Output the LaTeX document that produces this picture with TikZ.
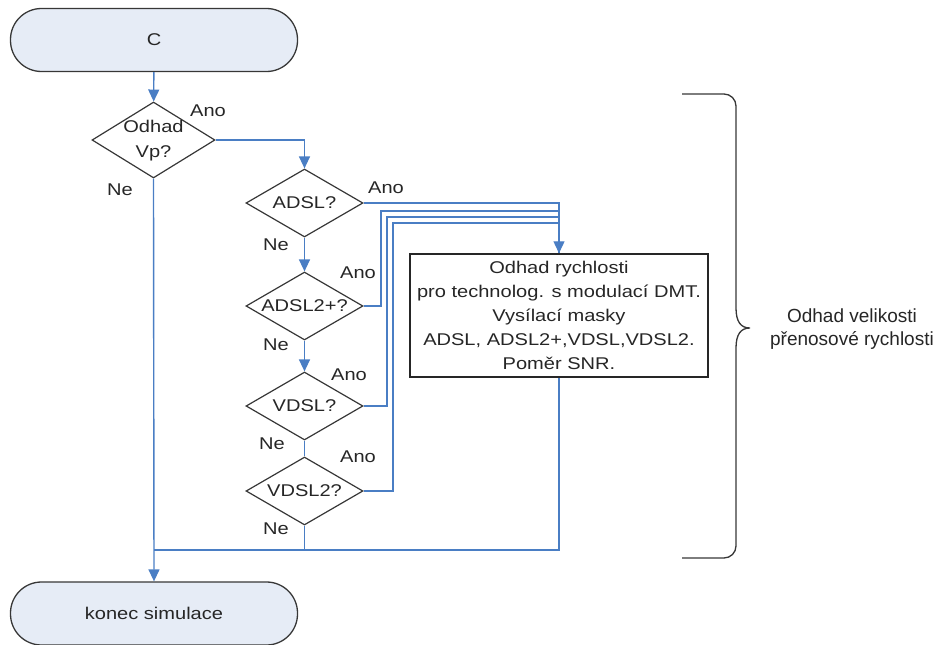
\documentclass[tikz,border=0pt]{standalone}
\usepackage{fontspec}
\setmainfont[FakeStretch=1.18]{Liberation Sans}
\newfontfamily\capfont{Liberation Sans}
\usetikzlibrary{shapes.geometric,arrows.meta}
\definecolor{flow}{RGB}{74,126,196}
\definecolor{termfill}{RGB}{230,236,246}
\definecolor{edgegray}{RGB}{55,55,55}
\begin{document}
\begin{tikzpicture}[x=1pt,y=-1pt,
  every node/.style={font=\fontsize{17}{24}\selectfont,text=black!85},
  term/.style={draw=edgegray,line width=1.3pt,fill=termfill,rounded corners=31pt,
    minimum width=287pt,minimum height=63pt,inner sep=0pt},
  cond/.style={diamond,draw=edgegray,line width=1.2pt,minimum width=117pt,
    minimum height=68pt,inner sep=0pt},
  procbox/.style={draw=black!85,line width=1.5pt,minimum width=298pt,
    minimum height=123pt,align=center,inner sep=0pt},
  lbl/.style={inner sep=0pt},
  conn/.style={draw=flow,line width=1.4pt},
  arr/.style={conn,-{Triangle[width=11pt,length=12pt]}},
  brace/.style={draw=edgegray,line width=1.3pt}]
\useasboundingbox (0,0) rectangle (940,645);

% terminals
\node[term] (start) at (154,40) {C};
\node[term] (stop) at (154,613.5) {konec simulace};

% decisions
\node[cond,minimum width=123pt,minimum height=76pt] (odhad) at (153.5,140)
  {\makebox[0pt]{\begin{tabular}{@{}c@{}}Odhad\\[1pt]Vp?\end{tabular}}};
\node[cond] (adsl)  at (304.5,203) {\makebox[0pt]{ADSL?}};
\node[cond] (adsl2) at (304.5,306) {\makebox[0pt]{ADSL2+?}};
\node[cond] (vdsl)  at (304.5,406) {\makebox[0pt]{VDSL?}};
\node[cond] (vdsl2) at (304.5,491) {\makebox[0pt]{VDSL2?}};

% process box
\node[procbox] (box) at (559,315.5)
  {Odhad rychlosti\\pro technolog. s modulací DMT.\\Vysílací masky\\ADSL, ADSL2+,VDSL,VDSL2.\\Poměr SNR.};

% branch labels
\node[lbl] (yes0) at (208,111) {Ano};
\node[lbl] (no0)  at (120,190) {Ne};
\node[lbl] (yes1) at (386,188) {Ano};
\node[lbl] (no1)  at (276,245) {Ne};
\node[lbl] (yes2) at (358,273) {Ano};
\node[lbl] (no2)  at (276,345) {Ne};
\node[lbl] (yes3) at (349,375) {Ano};
\node[lbl] (no3)  at (272,444) {Ne};
\node[lbl] (yes4) at (358,457) {Ano};
\node[lbl] (no4)  at (276,529) {Ne};

% routing points
\coordinate (join) at (153.5,550);
\coordinate (r2) at (381,211);
\coordinate (r3) at (387,217);
\coordinate (r4) at (393,223);

% main flow
\draw[arr] (start) -- (odhad);
\draw[arr] (odhad.east) -| (adsl.north);
\draw[arr] (adsl) -- (adsl2);
\draw[arr] (adsl2) -- (vdsl);
\draw[conn] (vdsl.south) -- (vdsl2.north);
\draw[arr] (odhad.south) -- (stop.north);

% "Ano" branches into the process box
\draw[conn] (adsl2.east) -| (r2) -| (box.north);
\draw[conn] (vdsl.east) -| (r3) -| (box.north);
\draw[conn] (vdsl2.east) -| (r4) -| (box.north);
\draw[arr] (adsl.east) -| (box.north);

% return lines
\draw[conn] (vdsl2.south) -- (vdsl2.south |- join);
\draw[conn] (box.south) |- (join);

% brace and its caption
\draw[brace] (682,94) -- (724,94) arc[start angle=-90,end angle=0,radius=12]
  -- (736,308) .. controls (736,322) and (741,328) .. (750,328)
  .. controls (741,328) and (736,334) .. (736,348)
  -- (736,546) arc[start angle=0,end angle=90,radius=12] -- (682,558);
\node[align=center,font=\capfont\fontsize{19}{23}\selectfont] (cap) at (852,329)
  {Odhad velikosti\\přenosové rychlosti};
\end{tikzpicture}
\end{document}
